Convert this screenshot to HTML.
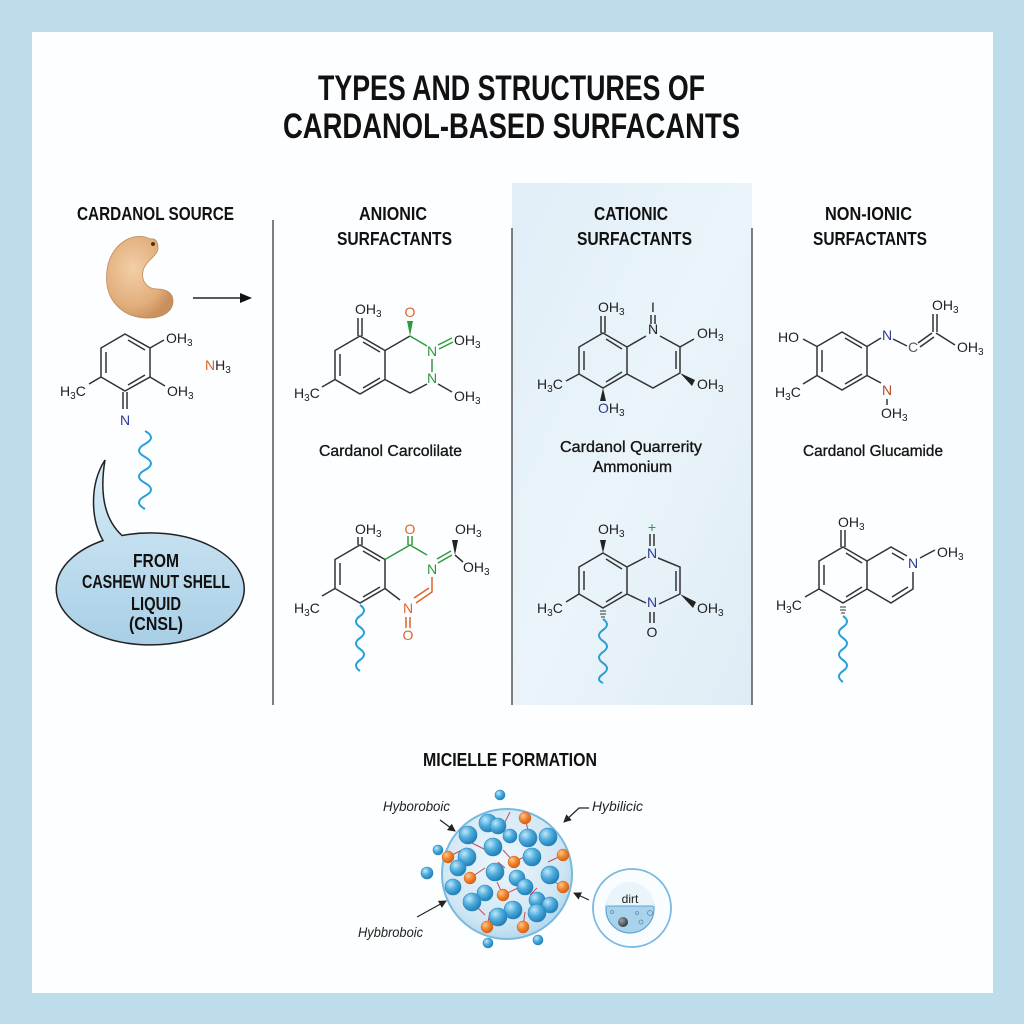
<!DOCTYPE html>
<html><head><meta charset="utf-8"><style>
html,body{margin:0;padding:0;background:#bddcec;}
svg{display:block;}
.h{font-family:"Liberation Sans",Arial,sans-serif;font-weight:bold;fill:#111;}
.lb{font-family:"Liberation Sans",Arial,sans-serif;font-size:14px;fill:#222;}
.s{font-size:10px;}
.cap{font-family:"Liberation Sans",Arial,sans-serif;font-size:16px;fill:#151515;stroke:#151515;stroke-width:0.35;}
.it{font-family:"Liberation Sans",Arial,sans-serif;font-size:14px;font-style:italic;fill:#222;}
</style></head><body>
<svg width="1024" height="1024" viewBox="0 0 1024 1024" xmlns="http://www.w3.org/2000/svg">
<defs>
<radialGradient id="gb" cx="35%" cy="32%" r="70%"><stop offset="0" stop-color="#bfe8fa"/><stop offset="0.5" stop-color="#4faddd"/><stop offset="1" stop-color="#1f7fb6"/></radialGradient>
<radialGradient id="go" cx="35%" cy="32%" r="70%"><stop offset="0" stop-color="#ffc690"/><stop offset="0.55" stop-color="#f08228"/><stop offset="1" stop-color="#d5601a"/></radialGradient>
<radialGradient id="gs" cx="45%" cy="40%" r="60%"><stop offset="0" stop-color="#eef7fc"/><stop offset="0.8" stop-color="#cfe6f4"/><stop offset="1" stop-color="#b6d9ee"/></radialGradient>
<radialGradient id="gc" cx="40%" cy="40%" r="65%"><stop offset="0" stop-color="#f2cfa6"/><stop offset="0.7" stop-color="#e2ae7c"/><stop offset="1" stop-color="#c98f5c"/></radialGradient>
<linearGradient id="gbub" x1="0" y1="0" x2="0" y2="1"><stop offset="0" stop-color="#d8ecf7"/><stop offset="1" stop-color="#a8cfe6"/></linearGradient>
<linearGradient id="gpan" x1="0" y1="0" x2="1" y2="1"><stop offset="0" stop-color="#e1eef7"/><stop offset="0.5" stop-color="#eaf4fa"/><stop offset="1" stop-color="#dfecf5"/></linearGradient>
<radialGradient id="gd" cx="35%" cy="35%" r="70%"><stop offset="0" stop-color="#9aa3aa"/><stop offset="1" stop-color="#30363c"/></radialGradient>
<marker id="ar" markerWidth="8" markerHeight="8" refX="7" refY="4" orient="auto" markerUnits="userSpaceOnUse"><path d="M0,0 L8,4 L0,8 Z" fill="#222"/></marker>
</defs>

<rect x="0" y="0" width="1024" height="1024" fill="#bddcec"/>
<rect x="32" y="32" width="961" height="961" fill="#fdfeff"/>

<!-- cationic panel -->
<rect x="512" y="183" width="240" height="522" fill="url(#gpan)"/>

<!-- dividers -->
<g stroke="#555" stroke-width="1.5">
<line x1="273" y1="220" x2="273" y2="705"/>
<line x1="512" y1="228" x2="512" y2="705"/>
<line x1="752" y1="228" x2="752" y2="705"/>
</g>

<!-- title -->
<text class="h" x="318" y="100" font-size="35" textLength="387" lengthAdjust="spacingAndGlyphs">TYPES AND STRUCTURES OF</text>
<text class="h" x="283" y="138" font-size="35" textLength="457" lengthAdjust="spacingAndGlyphs">CARDANOL-BASED SURFACANTS</text>

<!-- headers -->
<text class="h" x="77" y="220" font-size="18" textLength="157" lengthAdjust="spacingAndGlyphs">CARDANOL SOURCE</text>
<text class="h" x="359" y="220" font-size="18" textLength="68" lengthAdjust="spacingAndGlyphs">ANIONIC</text>
<text class="h" x="337" y="245" font-size="18" textLength="115" lengthAdjust="spacingAndGlyphs">SURFACTANTS</text>
<text class="h" x="594" y="220" font-size="18" textLength="74" lengthAdjust="spacingAndGlyphs">CATIONIC</text>
<text class="h" x="577" y="245" font-size="18" textLength="115" lengthAdjust="spacingAndGlyphs">SURFACTANTS</text>
<text class="h" x="825" y="220" font-size="18" textLength="87" lengthAdjust="spacingAndGlyphs">NON-IONIC</text>
<text class="h" x="813" y="245" font-size="18" textLength="114" lengthAdjust="spacingAndGlyphs">SURFACTANTS</text>

<!-- cashew -->
<path d="M150,239 C133,230 110,245 107,270 C103,302 125,319 149,318 C163,318 173,311 173,301 C173,292 165,289 157,289 C147,289 141,281 143,271 C145,261 158,256 158,248 C158,241 155,238 150,239 Z" fill="url(#gc)" stroke="#c08a58" stroke-width="0.8"/>
<circle cx="153" cy="244" r="2" fill="#5a3010"/>
<!-- arrow -->
<line x1="193" y1="298" x2="242" y2="298" stroke="#222" stroke-width="1.5"/>
<path d="M240,293 L252,298 L240,303 Z" fill="#111"/>

<!-- source molecule -->
<g stroke="#333" stroke-width="1.5" fill="none">
<path d="M125,334 L150,348 L150,377 L125,391 L101,377 L101,348 Z"/>
<path d="M106,352 L106,373 M128,340 L145,350 M145,375 L128,385"/>
<path d="M150,348 L164,340 M150,377 L165,386 M101,377 L89,384 M123,392 L123,409 M127,392 L127,409"/>
</g>
<text class="lb" x="166" y="343">OH<tspan class="s" dy="3">3</tspan></text>
<text class="lb" x="167" y="396">OH<tspan class="s" dy="3">3</tspan></text>
<text class="lb" x="60" y="396">H<tspan class="s" dy="3">3</tspan><tspan dy="-3">C</tspan></text>
<text class="lb" x="125" y="425" text-anchor="middle" fill="#2d3a9a" style="fill:#2d3a9a">N</text>
<text class="lb" x="205" y="370"><tspan style="fill:#e0622a">N</tspan>H<tspan class="s" dy="3">3</tspan></text>
<path d="M145,431 q12,6.5 0,13 t0,13 t0,13 t0,13 t0,13 t0,13" fill="none" stroke="#2a9fd6" stroke-width="2"/>

<!-- speech bubble -->
<path d="M122,535.5 A94,56 0 1 1 103,540.5 C91,520 89,485 105,460 C100,490 103,518 122,535.5 Z" fill="url(#gbub)" stroke="#222" stroke-width="1.5"/>
<text class="h" x="156" y="567" font-size="18" text-anchor="middle" textLength="46" lengthAdjust="spacingAndGlyphs">FROM</text>
<text class="h" x="82" y="588" font-size="18" textLength="148" lengthAdjust="spacingAndGlyphs">CASHEW NUT SHELL</text>
<text class="h" x="156" y="610" font-size="18" text-anchor="middle" textLength="50" lengthAdjust="spacingAndGlyphs">LIQUID</text>
<text class="h" x="156" y="630" font-size="18" text-anchor="middle" textLength="54" lengthAdjust="spacingAndGlyphs">(CNSL)</text>

<!-- ===== Anionic 1 ===== -->
<g stroke="#333" stroke-width="1.5" fill="none">
<path d="M360,336 L385,350.5 L385,379.5 L360,394 L335,379.5 L335,350.5 Z"/>
<path d="M340,354 L340,376 M363,342 L380,352 M380,378 L363,388"/>
<path d="M358,336 L358,318 M362,336 L362,318"/>
<path d="M385,350.5 L410,336"/>
<path d="M427,384 L410,393 L385,379.5"/>
<path d="M438,384 L452,392"/>
<path d="M335,379.5 L322,387"/>
</g>
<g stroke="#2e9a3a" stroke-width="1.5" fill="none">
<path d="M410,336 L427,346 M432,359 L432,372 M438,345 L452,338 M439,349 L453,342"/>
</g>
<path d="M410,336 L407,321 L413,321 Z" fill="#2e9a3a"/>
<text class="lb" x="355" y="314">OH<tspan class="s" dy="3">3</tspan></text>
<text class="lb" x="410" y="317" text-anchor="middle" style="fill:#e0622a">O</text>
<text class="lb" x="432" y="356" text-anchor="middle" style="fill:#2e9a3a">N</text>
<text class="lb" x="432" y="383" text-anchor="middle" style="fill:#2e9a3a">N</text>
<text class="lb" x="454" y="345">OH<tspan class="s" dy="3">3</tspan></text>
<text class="lb" x="454" y="401">OH<tspan class="s" dy="3">3</tspan></text>
<text class="lb" x="294" y="398">H<tspan class="s" dy="3">3</tspan><tspan dy="-3">C</tspan></text>
<text class="cap" x="319" y="456" textLength="143" lengthAdjust="spacingAndGlyphs">Cardanol Carcolilate</text>

<!-- ===== Anionic 2 ===== -->
<g stroke="#333" stroke-width="1.5" fill="none">
<path d="M360,545 L385,559.5 L385,588.5 L360,603 L335,588.5 L335,559.5 Z"/>
<path d="M340,563 L340,585 M363,551 L380,561 M380,587 L363,597"/>
<path d="M358,545 L358,537 M362,545 L362,537"/>
<path d="M385,588.5 L400,600"/>
<path d="M455,555 L463,562"/>
<path d="M335,588.5 L322,596"/>
</g>
<g stroke="#2e9a3a" stroke-width="1.5" fill="none">
<path d="M385,559.5 L410,545 L427,555 M408,545 L408,536 M412,545 L412,536 M438,563 L452,555 M437,559 L451,551"/>
</g>
<path d="M455,555 L452,540 L458,540 Z" fill="#222"/>
<g stroke="#e0622a" stroke-width="1.5" fill="none">
<path d="M432,577 L432,592 L416,603 M429,588 L414,598 M406,617 L406,628 M410,617 L410,628"/>
</g>
<text class="lb" x="355" y="534">OH<tspan class="s" dy="3">3</tspan></text>
<text class="lb" x="410" y="534" text-anchor="middle" style="fill:#e0622a">O</text>
<text class="lb" x="455" y="534">OH<tspan class="s" dy="3">3</tspan></text>
<text class="lb" x="432" y="574" text-anchor="middle" style="fill:#2e9a3a">N</text>
<text class="lb" x="463" y="572">OH<tspan class="s" dy="3">3</tspan></text>
<text class="lb" x="408" y="613" text-anchor="middle" style="fill:#e0622a">N</text>
<text class="lb" x="408" y="640" text-anchor="middle" style="fill:#e0622a">O</text>
<text class="lb" x="294" y="613">H<tspan class="s" dy="3">3</tspan><tspan dy="-3">C</tspan></text>
<path d="M360,605 q8,5.5 0,11 t0,11 t0,11 t0,11 t0,11 t0,11" fill="none" stroke="#2a9fd6" stroke-width="2"/>

<!-- ===== Cationic 1 ===== -->
<g stroke="#333" stroke-width="1.5" fill="none">
<path d="M603,333 L627,347 L627,374 L603,388 L579,374 L579,347 Z"/>
<path d="M584,351 L584,370 M606,339 L622,349 M622,372 L606,382"/>
<path d="M601,333 L601,316 M605,333 L605,316"/>
<path d="M627,347 L646,336 M660,336 L680,347 L680,373 M676,351 L676,369 M680,373 L653,388 L627,374"/>
<path d="M651,324 L651,315 M655,324 L655,315"/>
<path d="M680,347 L694,339"/>
<path d="M579,374 L566,381"/>
</g>
<path d="M680,373 L695,380 L692,386 Z" fill="#222"/>
<path d="M603,388 L600,401 L606,401 Z" fill="#222"/>
<text class="lb" x="598" y="312">OH<tspan class="s" dy="3">3</tspan></text>
<text class="lb" x="653" y="312" text-anchor="middle" font-size="13">I</text>
<text class="lb" x="653" y="334" text-anchor="middle">N</text>
<text class="lb" x="697" y="338">OH<tspan class="s" dy="3">3</tspan></text>
<text class="lb" x="697" y="389">OH<tspan class="s" dy="3">3</tspan></text>
<text class="lb" x="537" y="389">H<tspan class="s" dy="3">3</tspan><tspan dy="-3">C</tspan></text>
<text class="lb" x="598" y="413"><tspan style="fill:#2d3a9a">O</tspan>H<tspan class="s" dy="3">3</tspan></text>
<text class="cap" x="560" y="452" textLength="142" lengthAdjust="spacingAndGlyphs">Cardanol Quarrerity</text>
<text class="cap" x="593" y="472" textLength="79" lengthAdjust="spacingAndGlyphs">Ammonium</text>

<!-- ===== Cationic 2 ===== -->
<g stroke="#333" stroke-width="1.5" fill="none">
<path d="M603,553 L627,567 L627,594 L603,608 L579,594 L579,567 Z"/>
<path d="M584,571 L584,590 M606,559 L622,569 M622,592 L606,602"/>
<path d="M627,567 L646,557 M658,558 L680,567 L680,594 M676,571 L676,591 M680,594 L659,604 M627,594 L646,603"/>
<path d="M650,612 L650,623 M654,612 L654,623"/>
<path d="M579,594 L566,602"/>
</g>
<path d="M650,534 L650,546 M654,534 L654,546" stroke="#333" stroke-width="1.5"/>
<path d="M603,553 L600,540 L606,540 Z" fill="#222"/>
<path d="M680,594 L696,602 L693,608 Z" fill="#222"/>
<path d="M600,611 L606,611 M600,614 L606,614 M601,617 L605,617" stroke="#333" stroke-width="1"/>
<text class="lb" x="598" y="534">OH<tspan class="s" dy="3">3</tspan></text>
<text class="lb" x="652" y="532" text-anchor="middle" style="fill:#2e9a3a">+</text>
<text class="lb" x="652" y="558" text-anchor="middle" style="fill:#2d3a9a">N</text>
<text class="lb" x="652" y="607" text-anchor="middle" style="fill:#2d3a9a">N</text>
<text class="lb" x="652" y="637" text-anchor="middle">O</text>
<text class="lb" x="697" y="613">OH<tspan class="s" dy="3">3</tspan></text>
<text class="lb" x="537" y="613">H<tspan class="s" dy="3">3</tspan><tspan dy="-3">C</tspan></text>
<path d="M603,619 q8,5.5 0,11 t0,11 t0,11 t0,11 t0,11 t0,9" fill="none" stroke="#2a9fd6" stroke-width="2"/>

<!-- ===== Non-ionic 1 ===== -->
<g stroke="#333" stroke-width="1.5" fill="none">
<path d="M842,332 L867,346.5 L867,375.5 L842,390 L817,375.5 L817,346.5 Z"/>
<path d="M822,350 L822,372 M845,338 L862,348 M862,374 L845,384"/>
<path d="M817,346.5 L803,339 M817,375.5 L803,384"/>
<path d="M867,346.5 L881,338 M893,339 L907,346"/>
<path d="M918,343 L932,333 M920,347 L934,337"/>
<path d="M933,332 L933,314 M937,332 L937,314"/>
<path d="M936,333 L955,345"/>
<path d="M867,375.5 L881,383 M887,399 L887,405"/>
</g>
<text class="lb" x="778" y="342">HO</text>
<text class="lb" x="775" y="397">H<tspan class="s" dy="3">3</tspan><tspan dy="-3">C</tspan></text>
<text class="lb" x="887" y="340" text-anchor="middle" style="fill:#2d3a9a">N</text>
<text class="lb" x="913" y="352" text-anchor="middle" font-size="12" style="fill:#555">C</text>
<text class="lb" x="932" y="310">OH<tspan class="s" dy="3">3</tspan></text>
<text class="lb" x="957" y="352">OH<tspan class="s" dy="3">3</tspan></text>
<text class="lb" x="887" y="395" text-anchor="middle" style="fill:#b5482a">N</text>
<text class="lb" x="881" y="418">OH<tspan class="s" dy="3">3</tspan></text>
<text class="cap" x="803" y="456" textLength="140" lengthAdjust="spacingAndGlyphs">Cardanol Glucamide</text>

<!-- ===== Non-ionic 2 ===== -->
<g stroke="#333" stroke-width="1.5" fill="none">
<path d="M843,547 L867,561 L867,589 L843,603 L819,589 L819,561 Z"/>
<path d="M824,565 L824,585 M846,553 L862,563 M862,587 L846,597"/>
<path d="M841,547 L841,530 M845,547 L845,530"/>
<path d="M867,561 L891,547 L907,556 M892,553 L904,560"/>
<path d="M913,572 L913,589 L891,603 L867,589 M908,587 L892,597"/>
<path d="M920,558 L935,550"/>
<path d="M819,589 L805,597"/>
</g>
<path d="M840,607 L846,607 M840,610 L846,610 M841,613 L845,613" stroke="#333" stroke-width="1"/>
<text class="lb" x="838" y="527">OH<tspan class="s" dy="3">3</tspan></text>
<text class="lb" x="913" y="568" text-anchor="middle" style="fill:#2d3a9a">N</text>
<text class="lb" x="937" y="557">OH<tspan class="s" dy="3">3</tspan></text>
<text class="lb" x="776" y="610">H<tspan class="s" dy="3">3</tspan><tspan dy="-3">C</tspan></text>
<path d="M843,616 q8,5.5 0,11 t0,11 t0,11 t0,11 t0,11 t0,11" fill="none" stroke="#2a9fd6" stroke-width="2"/>

<!-- ===== Micelle ===== -->
<text class="h" x="423" y="766" font-size="18" textLength="174" lengthAdjust="spacingAndGlyphs">MICIELLE FORMATION</text>
<text class="it" x="383" y="811" textLength="67" lengthAdjust="spacingAndGlyphs">Hyboroboic</text>
<text class="it" x="592" y="811" textLength="51" lengthAdjust="spacingAndGlyphs">Hybilicic</text>
<text class="it" x="358" y="937" textLength="65" lengthAdjust="spacingAndGlyphs">Hybbroboic</text>
<g stroke="#222" stroke-width="1.2" fill="none" marker-end="url(#ar)">
<line x1="440" y1="820" x2="455" y2="831"/>
<polyline points="589,808 579,808 564,822"/>
<line x1="417" y1="917" x2="446" y2="901"/>
<line x1="589" y1="900" x2="574" y2="893"/>
</g>

<circle cx="507" cy="874" r="65" fill="url(#gs)" stroke="#7ab9de" stroke-width="2"/>
<!-- red stems -->
<g stroke="#c84a5a" stroke-width="1" fill="none">
<path d="M525,818 L528,830 M505,822 L510,812 M514,862 L503,850 M514,862 L528,855 M470,878 L485,868 M448,857 L466,848 M470,842 L486,850 M563,855 L548,862 M563,887 L548,878 M503,895 L497,882 M503,895 L518,888 M487,927 L490,912 M523,927 L525,912 M530,895 L537,888 M498,862 L505,868 M475,905 L485,915"/>
</g>
<g stroke="#2a86bd" stroke-width="0.6">
<circle cx="488" cy="823" r="9" fill="url(#gb)"/>
<circle cx="498" cy="826" r="8" fill="url(#gb)"/>
<circle cx="510" cy="836" r="7" fill="url(#gb)"/>
<circle cx="528" cy="838" r="9" fill="url(#gb)"/>
<circle cx="548" cy="837" r="9" fill="url(#gb)"/>
<circle cx="468" cy="835" r="9" fill="url(#gb)"/>
<circle cx="493" cy="847" r="9" fill="url(#gb)"/>
<circle cx="467" cy="857" r="9" fill="url(#gb)"/>
<circle cx="458" cy="868" r="8" fill="url(#gb)"/>
<circle cx="532" cy="857" r="9" fill="url(#gb)"/>
<circle cx="495" cy="872" r="9" fill="url(#gb)"/>
<circle cx="517" cy="878" r="8" fill="url(#gb)"/>
<circle cx="525" cy="887" r="8" fill="url(#gb)"/>
<circle cx="550" cy="875" r="9" fill="url(#gb)"/>
<circle cx="453" cy="887" r="8" fill="url(#gb)"/>
<circle cx="485" cy="893" r="8" fill="url(#gb)"/>
<circle cx="472" cy="902" r="9" fill="url(#gb)"/>
<circle cx="537" cy="900" r="8" fill="url(#gb)"/>
<circle cx="550" cy="905" r="8" fill="url(#gb)"/>
<circle cx="513" cy="910" r="9" fill="url(#gb)"/>
<circle cx="498" cy="917" r="9" fill="url(#gb)"/>
<circle cx="537" cy="913" r="9" fill="url(#gb)"/>
<circle cx="500" cy="795" r="5" fill="url(#gb)"/>
<circle cx="438" cy="850" r="5" fill="url(#gb)"/>
<circle cx="427" cy="873" r="6" fill="url(#gb)"/>
<circle cx="488" cy="943" r="5" fill="url(#gb)"/>
<circle cx="538" cy="940" r="5" fill="url(#gb)"/>
</g>
<g stroke="#d0601c" stroke-width="0.5">
<circle cx="525" cy="818" r="6" fill="url(#go)"/>
<circle cx="448" cy="857" r="6" fill="url(#go)"/>
<circle cx="514" cy="862" r="6" fill="url(#go)"/>
<circle cx="470" cy="878" r="6" fill="url(#go)"/>
<circle cx="563" cy="855" r="6" fill="url(#go)"/>
<circle cx="563" cy="887" r="6" fill="url(#go)"/>
<circle cx="503" cy="895" r="6" fill="url(#go)"/>
<circle cx="487" cy="927" r="6" fill="url(#go)"/>
<circle cx="523" cy="927" r="6" fill="url(#go)"/>
</g>

<!-- dirt -->
<circle cx="632" cy="908" r="39" fill="#fafdff" stroke="#7ab9de" stroke-width="1.8"/>
<circle cx="630" cy="909" r="24" fill="#a9d3ec" stroke="#5fa6d2" stroke-width="1.2"/>
<path d="M606,906 A24,24 0 0 1 654,906 Z" fill="#e9f5fb"/>
<line x1="607" y1="906" x2="653" y2="906" stroke="#5fa6d2" stroke-width="1"/>
<text x="630" y="903" text-anchor="middle" font-family="Liberation Sans, sans-serif" font-size="12" fill="#222">dirt</text>
<circle cx="623" cy="922" r="5" fill="url(#gd)"/>
<g fill="none" stroke="#5a8fb0" stroke-width="0.8">
<circle cx="612" cy="912" r="1.5"/><circle cx="637" cy="913" r="1.5"/><circle cx="650" cy="913" r="2.5"/><circle cx="641" cy="922" r="2"/>
</g>
</svg>
</body></html>
